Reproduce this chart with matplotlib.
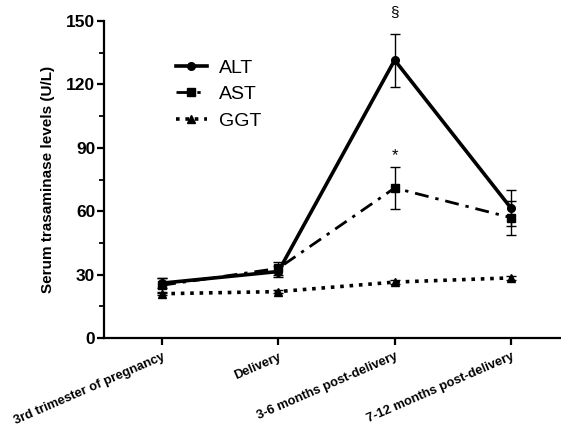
import numpy as np
import matplotlib.pyplot as plt

plt.rcParams["font.family"] = ["Liberation Sans", "DejaVu Sans"]

TIMEPOINTS = ["3rd trimester of pregnancy", "Delivery",
              "3-6 months post-delivery", "7-12 months post-delivery"]

alt_mean = [26, 31.5, 131.5, 61.5]
alt_err = [2.5, 2.5, 12.5, 8.5]
ast_mean = [25, 33, 71, 57]
ast_err = [3.5, 3, 10, 8]
ggt_mean = [21, 22, 26.5, 28.5]
ggt_err = [0.8, 0.8, 0.8, 0.8]

Y_TICKS = [0, 30, 60, 90, 120, 150]


def main():
    x = np.arange(len(TIMEPOINTS))

    fig = plt.figure(figsize=(5.61, 4.28), dpi=100)
    ax = fig.add_axes([0.1845, 0.21, 0.8155, 0.741])

    series = [
        ("ALT", alt_mean, alt_err, "-", "o", 2.6),
        ("AST", ast_mean, ast_err, (0, (5, 2.5, 1.2, 2.5)), "s", 2.0),
        ("GGT", ggt_mean, ggt_err, (0, (1, 1.6)), "^", 2.6),
    ]
    for name, mean, err, ls, mk, lw in series:
        ax.errorbar(x, mean, yerr=err, fmt="none", ecolor="black",
                    elinewidth=1, capsize=3.5, capthick=1)
        ax.plot(x, mean, color="black", ls=ls, lw=lw, marker=mk, ms=5.5,
                label=name)

    ax.text(2, 151, "§", ha="center", va="bottom", fontsize=11)
    ax.text(2, 83, "*", ha="center", va="bottom", fontsize=12)

    ax.set_xlim(-0.503, 3.43)
    ax.set_ylim(0, 150)
    ax.set_yticks(Y_TICKS)
    ax.set_yticks(np.arange(15, 150, 30), minor=True)
    ax.set_xticks(x)
    ax.set_xticklabels(TIMEPOINTS, rotation=23.5, ha="right", va="top",
                       rotation_mode="anchor", fontsize=9.3, fontweight="bold")
    for lbl in ax.get_yticklabels():
        lbl.set_fontweight("bold")
        lbl.set_fontsize(12.5)

    ax.spines["top"].set_visible(False)
    ax.spines["right"].set_visible(False)
    ax.spines["left"].set_linewidth(1.6)
    ax.spines["bottom"].set_linewidth(1.6)
    ax.tick_params(axis="both", which="major", width=1.6, length=5)
    ax.tick_params(axis="y", which="minor", width=1.3, length=3.5)
    ax.tick_params(axis="x", pad=4)
    ax.tick_params(axis="y", pad=1)

    ax.set_ylabel("Serum trasaminase levels (U/L)", fontsize=11,
                  fontweight="bold", labelpad=8)

    ax.legend(loc="upper left", bbox_to_anchor=(0.137, 0.91), frameon=False,
              fontsize=14, handlelength=1.6, handletextpad=0.6,
              labelspacing=0.45, borderpad=0)

    fig.savefig("out.png", dpi=100)


if __name__ == "__main__":
    main()
